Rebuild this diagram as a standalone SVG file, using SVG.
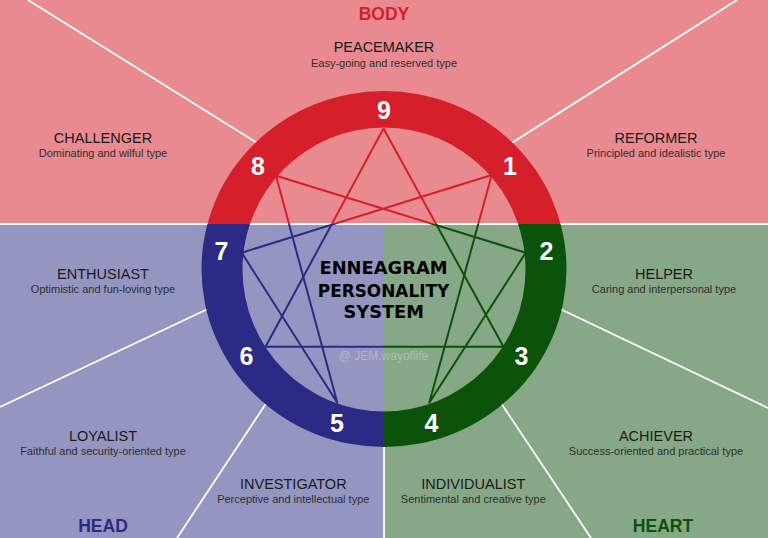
<svg xmlns="http://www.w3.org/2000/svg" xmlns:xlink="http://www.w3.org/1999/xlink" width="768" height="538" viewBox="0 0 768 538">
  <style>
    .divider { stroke: #ffffff; stroke-width: 1.8; fill: none; }
    .name { font-family: "Liberation Sans", Arial, sans-serif; font-size: 14.5px; fill: #1a1a1a; text-anchor: middle; }
    .desc { font-family: "Liberation Sans", Arial, sans-serif; font-size: 11px; fill: #2e2e2e; text-anchor: middle; }
    .center { font-family: "Liberation Sans", Arial, sans-serif; font-size: 25px; font-weight: bold; fill: #ffffff; text-anchor: middle; }
    .num { font-family: "Liberation Sans", Arial, sans-serif; font-size: 25px; font-weight: bold; fill: #ffffff; text-anchor: middle; }
    .group { font-family: "Liberation Sans", Arial, sans-serif; font-size: 17.5px; font-weight: bold; text-anchor: middle; }
    .title { font-family: "DejaVu Sans", "Liberation Sans", sans-serif; font-size: 18px; font-weight: bold; fill: #000000; text-anchor: middle; }
    .star { fill: none; stroke-width: 2; stroke-linejoin: round; }
  </style>
  <defs>
    <clipPath id="clipTop"><rect x="0" y="0" width="768" height="224"/></clipPath>
    <clipPath id="clipLeft"><rect x="0" y="224" width="384" height="314"/></clipPath>
    <clipPath id="clipRight"><rect x="384" y="224" width="384" height="314"/></clipPath>
    <path id="ringShape" fill-rule="evenodd" d="M201.5,269 a182.5,178 0 1,0 365,0 a182.5,178 0 1,0 -365,0 Z M242.5,269.5 a141.5,142 0 1,0 283,0 a141.5,142 0 1,0 -283,0 Z"/>
    <g id="starShape">
      <polygon points="383.5,128.5 503.5,346.7 265.5,346.7"/>
      <polygon points="491.7,175 429.3,402.7 525.7,252.7 276,175.7 337.3,402.7 241.7,252.7"/>
    </g>
  </defs>

  <g id="background">
    <rect x="0" y="0" width="768" height="224" fill="#E88A8F"/>
    <rect x="0" y="224" width="384" height="314" fill="#9595C1"/>
    <rect x="384" y="224" width="384" height="314" fill="#86A886"/>
  </g>

  <g id="connectors">
    <line class="divider" x1="28" y1="0" x2="262" y2="146"/>
    <line class="divider" x1="737" y1="0" x2="507" y2="146"/>
    <line class="divider" x1="0" y1="224" x2="768" y2="224"/>
    <line class="divider" x1="0" y1="407" x2="212" y2="307"/>
    <line class="divider" x1="177" y1="538" x2="269" y2="399"/>
    <line class="divider" x1="768" y1="408" x2="556" y2="307"/>
    <line class="divider" x1="591" y1="538" x2="499" y2="400"/>
    <line class="divider" x1="384" y1="440" x2="384" y2="538"/>
  </g>

  <g id="ring">
    <use xlink:href="#ringShape" fill="#D51F2A" clip-path="url(#clipTop)"/>
    <use xlink:href="#ringShape" fill="#2D2A85" clip-path="url(#clipLeft)"/>
    <use xlink:href="#ringShape" fill="#0B520B" clip-path="url(#clipRight)"/>
  </g>

  <g id="star">
    <use xlink:href="#starShape" class="star" stroke="#D51F2A" clip-path="url(#clipTop)"/>
    <use xlink:href="#starShape" class="star" stroke="#2D2A85" clip-path="url(#clipLeft)"/>
    <use xlink:href="#starShape" class="star" stroke="#0B520B" clip-path="url(#clipRight)"/>
  </g>

  <g id="numbers">
    <text class="num" x="384" y="118.5">9</text>
    <text class="num" x="510" y="174.5">1</text>
    <text class="num" x="258" y="174.5">8</text>
    <text class="num" x="546.5" y="260">2</text>
    <text class="num" x="221.5" y="260">7</text>
    <text class="num" x="521.5" y="365">3</text>
    <text class="num" x="246.5" y="365">6</text>
    <text class="num" x="431.5" y="431.5">4</text>
    <text class="num" x="337" y="431.5">5</text>
  </g>

  <g id="center-title">
    <text class="title" x="383.5" y="274.3" textLength="128" lengthAdjust="spacingAndGlyphs">ENNEAGRAM</text>
    <text class="title" x="383.5" y="296.7" textLength="131.5" lengthAdjust="spacingAndGlyphs">PERSONALITY</text>
    <text class="title" x="383.7" y="318.3" textLength="80.5" lengthAdjust="spacingAndGlyphs">SYSTEM</text>
    <text x="383.5" y="360" font-family="'Liberation Sans', Arial, sans-serif" font-size="12" fill="#ffffff" fill-opacity="0.3" text-anchor="middle">@ JEM.wayoflife</text>
  </g>

  <g id="group-labels">
    <text class="group" x="384" y="20" fill="#D51F2A">BODY</text>
    <text class="group" x="103" y="531.5" fill="#2D2A85">HEAD</text>
    <text class="group" x="663" y="531.5" fill="#0B520B">HEART</text>
  </g>

  <g id="type-9">
    <text class="name" x="384" y="52.3">PEACEMAKER</text>
    <text class="desc" x="384" y="66.7">Easy-going and reserved type</text>
  </g>
  <g id="type-8">
    <text class="name" x="103" y="143.3">CHALLENGER</text>
    <text class="desc" x="103" y="157">Dominating and wilful type</text>
  </g>
  <g id="type-1">
    <text class="name" x="656" y="143.3">REFORMER</text>
    <text class="desc" x="656" y="157">Principled and idealistic type</text>
  </g>
  <g id="type-7">
    <text class="name" x="103" y="279">ENTHUSIAST</text>
    <text class="desc" x="103" y="293.3">Optimistic and fun-loving type</text>
  </g>
  <g id="type-2">
    <text class="name" x="664" y="279">HELPER</text>
    <text class="desc" x="664" y="293.3">Caring and interpersonal type</text>
  </g>
  <g id="type-6">
    <text class="name" x="103" y="441">LOYALIST</text>
    <text class="desc" x="103" y="455">Faithful and security-oriented type</text>
  </g>
  <g id="type-3">
    <text class="name" x="656" y="441">ACHIEVER</text>
    <text class="desc" x="656" y="455">Success-oriented and practical type</text>
  </g>
  <g id="type-5">
    <text class="name" x="293.3" y="489.3">INVESTIGATOR</text>
    <text class="desc" x="293.3" y="502.7">Perceptive and intellectual type</text>
  </g>
  <g id="type-4">
    <text class="name" x="473.3" y="489.3">INDIVIDUALIST</text>
    <text class="desc" x="473.3" y="502.7">Sentimental and creative type</text>
  </g>
</svg>
